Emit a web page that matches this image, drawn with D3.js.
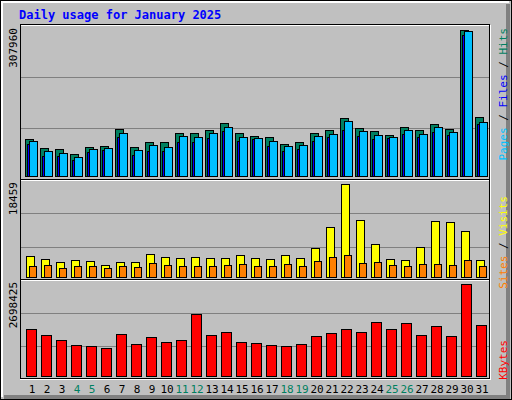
<!DOCTYPE html>
<html><head><meta charset="utf-8">
<script src="https://cdn.jsdelivr.net/npm/d3@7"></script>
<style>body{margin:0}svg{display:block}</style>
</head><body>
<svg id="chart" width="512" height="400"></svg>
<script>
const days = d3.range(1, 32)
const weekend = [4, 5, 11, 12, 18, 19, 25, 26]
const hits = [77400, 59050, 56940, 46400, 61160, 63270, 99120, 61160, 71700, 71700, 90690, 90690, 97010, 111780, 90690, 84360, 82250, 67490, 71700, 90690, 97010, 122320, 101230, 94900, 86470, 103340, 97010, 109670, 99120, 307960, 124430]
const files = [67490, 42180, 42180, 33740, 50600, 54830, 82250, 44290, 52700, 52700, 71700, 71700, 80140, 94900, 73800, 78030, 63270, 52700, 56940, 73800, 82250, 97010, 84360, 78030, 80140, 88580, 82250, 92800, 86470, 297370, 109670]
const pages = [73180, 52700, 48500, 40070, 56940, 59050, 90690, 54830, 65380, 61160, 84360, 82250, 90690, 103340, 82250, 80140, 73800, 63270, 65380, 84360, 88580, 116000, 94900, 86470, 82250, 97010, 88580, 103340, 92800, 305800, 113890]
const visits = [4110, 3510, 2920, 3310, 3120, 2320, 2920, 2920, 4500, 3910, 3710, 3910, 3710, 3710, 4310, 3710, 3510, 4310, 3710, 5700, 9870, 18459, 11250, 6490, 3510, 3310, 5900, 11060, 10860, 9070, 3310]
const sites = [2120, 2320, 1730, 2120, 2120, 1730, 2120, 1930, 2720, 2320, 2120, 2120, 2120, 2320, 2520, 2120, 2120, 2520, 2120, 3120, 3910, 4310, 2720, 2920, 2320, 2120, 2520, 2520, 2320, 3310, 2120]
const kbytes = [1369800, 1192600, 1045000, 897400, 867900, 808800, 1222100, 926900, 1133600, 986000, 1045000, 1812500, 1192600, 1281200, 986000, 956400, 897400, 867900, 926900, 1163100, 1251600, 1369800, 1281200, 1576400, 1369800, 1546800, 1192600, 1458300, 1163100, 2698425, 1487800]

const svg = d3.select("#chart")
const mono = "'DejaVu Sans Mono', monospace"

// background + bevel
svg.append("rect").attr("width", 512).attr("height", 400).attr("fill", "#c0c0c0")
svg.append("rect").attr("x", 0.5).attr("y", 0.5).attr("width", 511).attr("height", 399).attr("fill", "none").attr("stroke", "black")
svg.append("path").attr("d", "M2,397V2H509").attr("stroke", "white").attr("stroke-width", 2).attr("fill", "none")
svg.append("path").attr("d", "M4,397H508V4").attr("stroke", "#808080").attr("stroke-width", 4).attr("fill", "none")

svg.append("text").attr("x", 19).attr("y", 19).text("Daily usage for January 2025")
	.attr("fill", "#0000ff").attr("font-family", mono).attr("font-weight", "bold").attr("font-size", 12)

const x = d3.scaleLinear().domain([1, 31]).range([26, 476])

const panels = [
	{top: 25, bottom: 180, y0: 176, y1: 30, max: 307960},
	{top: 180, bottom: 280, y0: 277, y1: 184, max: 18459},
	{top: 280, bottom: 379, y0: 376, y1: 284, max: 2698425}
]
panels.forEach(p => {
	p.y = d3.scaleLinear().domain([0, p.max]).range([p.y0, p.y1])
	svg.append("rect").attr("x", 20.5).attr("y", p.top + 0.5).attr("width", 470).attr("height", p.bottom - p.top)
		.attr("fill", "none").attr("stroke", "white")
	svg.append("rect").attr("x", 20.5).attr("y", p.top - 0.5).attr("width", 469).attr("height", p.bottom - p.top)
		.attr("fill", "none").attr("stroke", "black")
	const h = p.bottom - p.top
	;[1, 2].forEach(k => {
		const gy = Math.round(p.top + h * k / 3) + 0.5
		svg.append("line").attr("x1", 21).attr("x2", 489).attr("y1", gy).attr("y2", gy).attr("stroke", "#808080")
	})
	svg.append("text").attr("transform", `translate(17,${p.y1 - 2}) rotate(-90)`)
		.attr("text-anchor", "end").attr("font-family", mono).attr("font-size", 11).text(p.max)
})

function bars(data, p, dx, w, color) {
	svg.append("g").selectAll("rect").data(data).join("rect")
		.attr("x", (d, i) => x(days[i]) + dx + 0.5)
		.attr("y", d => Math.round(p.y(d)) + 0.5)
		.attr("width", w)
		.attr("height", d => p.y0 - Math.round(p.y(d)))
		.attr("fill", color).attr("stroke", "black")
}
bars(hits, panels[0], -1, 8, "#008060")
bars(files, panels[0], 1, 8, "#0000ff")
bars(pages, panels[0], 3, 8, "#00c0ff")
bars(visits, panels[1], 0, 8, "#ffff00")
bars(sites, panels[1], 3, 7, "#ff8000")
bars(kbytes, panels[2], 0, 10, "#ff0000")

svg.append("g").selectAll("text").data(days).join("text")
	.attr("x", d => x(d) + 6).attr("y", 393).attr("text-anchor", "middle")
	.attr("font-family", mono).attr("font-size", 11)
	.attr("fill", d => weekend.includes(d) ? "#008060" : "black").text(d => d)

function legend(yTop, parts) {
	const t = svg.append("text").attr("transform", `translate(507,${yTop}) rotate(-90)`)
		.attr("text-anchor", "end").attr("font-family", mono).attr("font-size", 11)
	parts.forEach((pt, i) => {
		if (i > 0) t.append("tspan").attr("fill", "black").text(" / ")
		t.append("tspan").attr("fill", pt[1]).text(pt[0])
	})
}
legend(28, [["Pages", "#00c0ff"], ["Files", "#0000ff"], ["Hits", "#008060"]])
legend(196, [["Sites", "#ff8000"], ["Visits", "#ffff00"]])
legend(340, [["KBytes", "#ff0000"]])
</script>
</body></html>
